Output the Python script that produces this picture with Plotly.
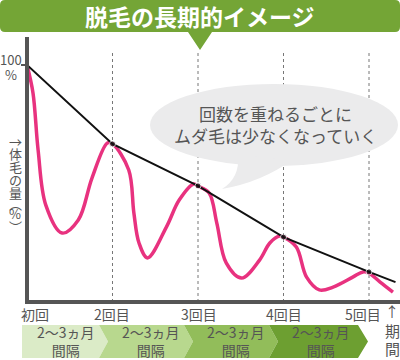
import plotly.graph_objects as go

# ---- data ----
tick_labels = ["初回", "2回目", "3回目", "4回目", "5回目"]
tick_pos = [1, 2, 3, 4, 5]

trend_x = [1.0, 2.0, 3.0, 4.0, 5.0, 5.31]
trend_y = [100, 66.7, 49.0, 27.4, 12.7, 8.4]

hair_x = [1.00, 1.07, 1.13, 1.22, 1.41, 1.60, 1.76, 1.94, 2.00,
          2.19, 2.25, 2.31, 2.41, 2.63, 2.78, 2.95, 3.00,
          3.13, 3.22, 3.33, 3.51, 3.72, 3.84, 3.95, 4.00,
          4.15, 4.27, 4.42, 4.58, 4.81, 4.93, 5.00, 5.13, 5.28]
hair_y = [100, 88.2, 64.1, 40.9, 29.1, 34.6, 52.3, 67.1, 66.7,
          55.7, 37.6, 24.9, 18.6, 31.6, 43.0, 49.8, 48.9,
          46.0, 33.3, 16.5, 10.1, 17.7, 24.9, 27.8, 27.4,
          23.2, 10.5, 5.1, 6.3, 10.5, 12.7, 12.2, 8.4, 4.2]

interval_labels = ["2～3ヵ月<br>間隔"] * 4
interval_colors = ["#dbebc7", "#b8d88e", "#92bd5a", "#6d9f31"]

title_text = "脱毛の長期的イメージ"
bubble_text = "回数を重ねるごとに<br>ムダ毛は少なくなっていく"
ylabel_chars = ["→", "体", "毛", "の", "量", "︵", "%", "︶"]

FONT = "Noto Sans CJK JP"
GRAY = "#555555"

# pixel -> paper helpers (plot area: x 27..400, y 37..302)
L, R, T, B = 27, 400, 37, 302
def xp(px):
    return (px - L) / (R - L)
def yp(py):
    return (B - py) / (B - T)

X_RANGE = [1, 1 + (R - L) / 85.5]
Y_RANGE = [0, (B - T) / 2.37]

fig = go.Figure()

fig.add_trace(go.Scatter(
    x=hair_x, y=hair_y, mode="lines",
    line=dict(color="#e8327f", width=3.5, shape="spline", smoothing=1.0),
    hoverinfo="skip"))
fig.add_trace(go.Scatter(
    x=trend_x, y=trend_y, mode="lines+markers",
    line=dict(color="#111111", width=2),
    marker=dict(size=[0, 6, 6, 6, 6, 0], color="#111111"),
    hoverinfo="skip"))

shapes = []
# dashed verticals
for t in tick_pos[1:]:
    shapes.append(dict(type="line", xref="x", yref="paper", x0=t, x1=t,
                       y0=0, y1=yp(52), line=dict(color="#777777", width=1, dash="3px,3px"),
                       layer="below"))
# axes lines
shapes.append(dict(type="line", xref="paper", yref="paper", x0=xp(27), x1=xp(27),
                   y0=yp(304), y1=yp(37), line=dict(color=GRAY, width=4)))
shapes.append(dict(type="line", xref="paper", yref="paper", x0=xp(25), x1=xp(400),
                   y0=yp(302), y1=yp(302), line=dict(color=GRAY, width=4)))
# 100% tick
shapes.append(dict(type="line", xref="paper", yref="paper", x0=xp(21), x1=xp(29),
                   y0=yp(65), y1=yp(65), line=dict(color=GRAY, width=2)))

# title banner
def pth(points):
    return "M " + " L ".join(f"{xp(a):.5f},{yp(b):.5f}" for a, b in points) + " Z"
r = 5
banner = (f"M {xp(r):.5f},{yp(0):.5f} L {xp(400-r):.5f},{yp(0):.5f} "
          f"Q {xp(400):.5f},{yp(0):.5f} {xp(400):.5f},{yp(r):.5f} "
          f"L {xp(400):.5f},{yp(32-r):.5f} Q {xp(400):.5f},{yp(32):.5f} {xp(400-r):.5f},{yp(32):.5f} "
          f"L {xp(212):.5f},{yp(32):.5f} L {xp(200):.5f},{yp(50):.5f} L {xp(188):.5f},{yp(32):.5f} "
          f"L {xp(r):.5f},{yp(32):.5f} Q {xp(0):.5f},{yp(32):.5f} {xp(0):.5f},{yp(32-r):.5f} "
          f"L {xp(0):.5f},{yp(r):.5f} Q {xp(0):.5f},{yp(0):.5f} {xp(r):.5f},{yp(0):.5f} Z")
shapes.append(dict(type="path", xref="paper", yref="paper", path=banner,
                   fillcolor="#74a536", line=dict(width=0)))

# speech bubble
shapes.append(dict(type="circle", xref="paper", yref="paper",
                   x0=xp(150), x1=xp(398), y0=yp(166), y1=yp(84),
                   fillcolor="#ebebec", line=dict(width=0), layer="below"))
tail = (f"M {xp(238):.5f},{yp(155):.5f} "
        f"Q {xp(240):.5f},{yp(178):.5f} {xp(222):.5f},{yp(189):.5f} "
        f"Q {xp(262):.5f},{yp(182):.5f} {xp(292):.5f},{yp(160):.5f} Z")
shapes.append(dict(type="path", xref="paper", yref="paper", path=tail,
                   fillcolor="#ebebec", line=dict(width=0), layer="below"))

# interval chevrons
seg_x = [25, 108, 193, 278, 360]
tip = 9
ytop, ybot = 325, 358
ymid = (ytop + ybot) / 2
for i, c in enumerate(interval_colors):
    x0, x1 = seg_x[i], seg_x[i + 1]
    if i == 0:
        pts = [(x0 - 3, ytop), (x1 - tip, ytop), (x1, ymid), (x1 - tip, ybot), (x0 - 3, ybot)]
    else:
        pts = [(x0 - tip, ytop), (x1 - tip, ytop), (x1, ymid), (x1 - tip, ybot),
               (x0 - tip, ybot), (x0, ymid)]
    if i == 3:
        pts = [(x0 - tip, ytop), (x1 - 2, ytop), (x1 + 8, ymid), (x1 - 2, ybot),
               (x0 - tip, ybot), (x0, ymid)]
    shapes.append(dict(type="path", xref="paper", yref="paper", path=pth(pts),
                       fillcolor=c, line=dict(width=0), layer="below"))

ann = []
def txt(px, py, text, size, color=GRAY, bold=False, xanchor="center"):
    ann.append(dict(x=xp(px), y=yp(py), xref="paper", yref="paper", text=text,
                    showarrow=False, xanchor=xanchor, yanchor="middle",
                    font=dict(family=FONT, size=size, color=color,
                              weight="bold" if bold else "normal"),
                    align="center"))

txt(200, 16, title_text, 23, color="white", bold=True)
ann.append(dict(x=xp(275), y=yp(124), xref="paper", yref="paper", text=bubble_text,
                showarrow=False, xanchor="center", yanchor="middle", align="center",
                font=dict(family=FONT, size=17, color=GRAY)))

# x tick labels
tick_px = [35, 112, 199, 284, 363]
for lab, p in zip(tick_labels, tick_px):
    txt(p, 314, lab, 14)
# y annotations
txt(11, 59, "100", 13)
txt(11, 74, "%", 13)
ych_y = [141, 153, 166, 179, 192, 203, 213, 226]
for ch, py in zip(ylabel_chars, ych_y):
    txt(15, py, ch, 13)
# period label
txt(392, 311, "↑", 14)
txt(392, 330, "期", 15)
txt(392, 348, "間", 15)
# interval texts
centers = [66, 151, 236, 321]
for c, lab in zip(centers, interval_labels):
    ann.append(dict(x=xp(c), y=yp(341), xref="paper", yref="paper", text=lab,
                    showarrow=False, xanchor="center", yanchor="middle", align="center",
                    font=dict(family=FONT, size=14, color=GRAY)))

fig.update_layout(
    width=400, height=360,
    margin=dict(l=L, r=400 - R, t=T, b=360 - B),
    paper_bgcolor="white", plot_bgcolor="white",
    showlegend=False,
    xaxis=dict(range=X_RANGE, showgrid=False, zeroline=False, showticklabels=False,
               showline=False, fixedrange=True),
    yaxis=dict(range=Y_RANGE, showgrid=False, zeroline=False, showticklabels=False,
               showline=False, fixedrange=True),
    shapes=shapes, annotations=ann,
)

fig.write_html("out.html", config={"displayModeBar": False},
               post_script="document.body.style.margin='0';document.body.style.padding='0';")
